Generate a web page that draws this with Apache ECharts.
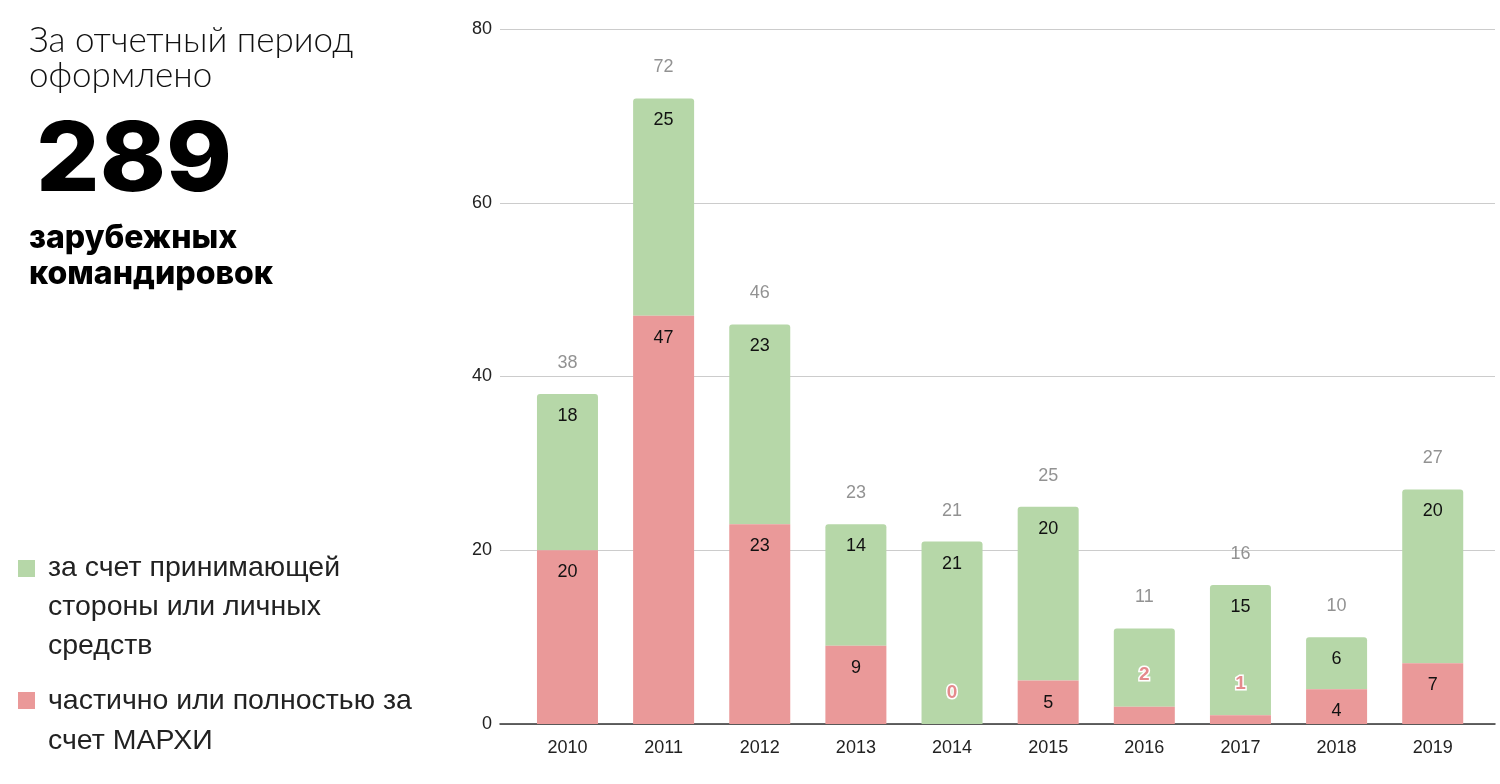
<!DOCTYPE html>
<html><head><meta charset="utf-8">
<script src="https://cdn.jsdelivr.net/npm/echarts@6/dist/echarts.min.js"></script>
<style>html,body{margin:0;padding:0;background:#fff}#c{width:1500px;height:784px}</style>
</head><body><div id="c"></div>
<script>
const years = ['2010','2011','2012','2013','2014','2015','2016','2017','2018','2019'];
const marhi = [20,47,23,9,0,5,2,1,4,7];
const host = [18,25,23,14,21,20,9,15,6,20];
const yTicks = {min:0, max:80, interval:20};
const hiddenHostLabels = ['2016'];
const seriesNames = ['за счет принимающей\nстороны или личных\nсредств', 'частично или полностью за\nсчет МАРХИ'];
const headerTop = 'За отчетный период\nоформлено';
const headerNumber = '289';
const headerBottom = 'зарубежных\nкомандировок';

const GREEN = '#b6d7a8', RED = '#ea9999';
const totals = marhi.map((v,i)=>v+host[i]);
const chart = echarts.init(document.getElementById('c'));
const F = 'Liberation Sans, Arial, sans-serif';

const redData = marhi.map(v => v < 3 ? {
  value: v,
  label: {position:'top', distance:22, color:'#e48a8c', textBorderColor:'#fff', textBorderWidth:3, fontWeight:'bold', fontSize:19}
} : v);
const greenData = host.map((v,i) => hiddenHostLabels.includes(years[i]) ? {value:v, label:{show:false}} : v);

chart.setOption({
  animation:false,
  grid:[
    {left:519.4, right:19.2, top:29, bottom:60},
    {left:500, right:5, top:29, bottom:60}
  ],
  xAxis:[
    {type:'category', gridIndex:0, data:years, axisLine:{show:false}, axisTick:{show:false},
     axisLabel:{color:'#222', fontSize:18, fontFamily:F, margin:15}},
    {type:'value', gridIndex:1, min:0, max:1, axisLine:{show:true, onZero:false, lineStyle:{color:'#333', width:1.5}},
     axisTick:{show:false}, axisLabel:{show:false}, splitLine:{show:false}}
  ],
  yAxis:[
    {type:'value', gridIndex:0, min:yTicks.min, max:yTicks.max, interval:yTicks.interval, show:false, splitLine:{show:false}},
    {type:'value', gridIndex:1, min:yTicks.min, max:yTicks.max, interval:yTicks.interval,
     axisLine:{show:false}, axisTick:{show:false},
     axisLabel:{color:'#222', fontSize:18, fontFamily:F, margin:8},
     splitLine:{lineStyle:{color:'#cccccc', width:1.2}}}
  ],
  series:[
    {name:seriesNames[1], type:'bar', stack:'s', xAxisIndex:0, yAxisIndex:0, barWidth:61, data:redData, z:3,
     itemStyle:{color:RED},
     label:{show:true, position:'insideTop', distance:13, color:'#111', fontSize:18, fontFamily:F}},
    {name:seriesNames[0], type:'bar', stack:'s', xAxisIndex:0, yAxisIndex:0, barWidth:61, data:greenData, z:2,
     itemStyle:{color:GREEN, borderRadius:[3,3,0,0]},
     label:{show:true, position:'insideTop', distance:13, color:'#111', fontSize:18, fontFamily:F}},
    {type:'scatter', xAxisIndex:0, yAxisIndex:0, data:totals, symbolSize:0, silent:true,
     label:{show:true, position:'top', distance:22, color:'#777', fontSize:18, fontFamily:F}}
  ],
  graphic:[
    {type:'text', left:29, top:23, style:{text:headerTop, font:'300 35px Lato, "Noto Sans", sans-serif', fill:'#111', lineHeight:35}},
    {type:'text', x:36, y:114, scaleX:1.04, style:{text:headerNumber, font:'800 96px Inter, sans-serif', fill:'#000'}},
    {type:'text', left:29, top:220, style:{text:headerBottom, font:'800 32px Inter, sans-serif', fill:'#000', lineHeight:36}},
    {type:'rect', left:18, top:560, shape:{width:17, height:17}, style:{fill:GREEN}},
    {type:'text', left:48, top:549, style:{text:seriesNames[0], font:'28.5px '+F, fill:'#222', lineHeight:39}},
    {type:'rect', left:18, top:692, shape:{width:17, height:17}, style:{fill:RED}},
    {type:'text', left:48, top:681, style:{text:seriesNames[1], font:'28.5px '+F, fill:'#222', lineHeight:40}}
  ]
});
</script></body></html>
